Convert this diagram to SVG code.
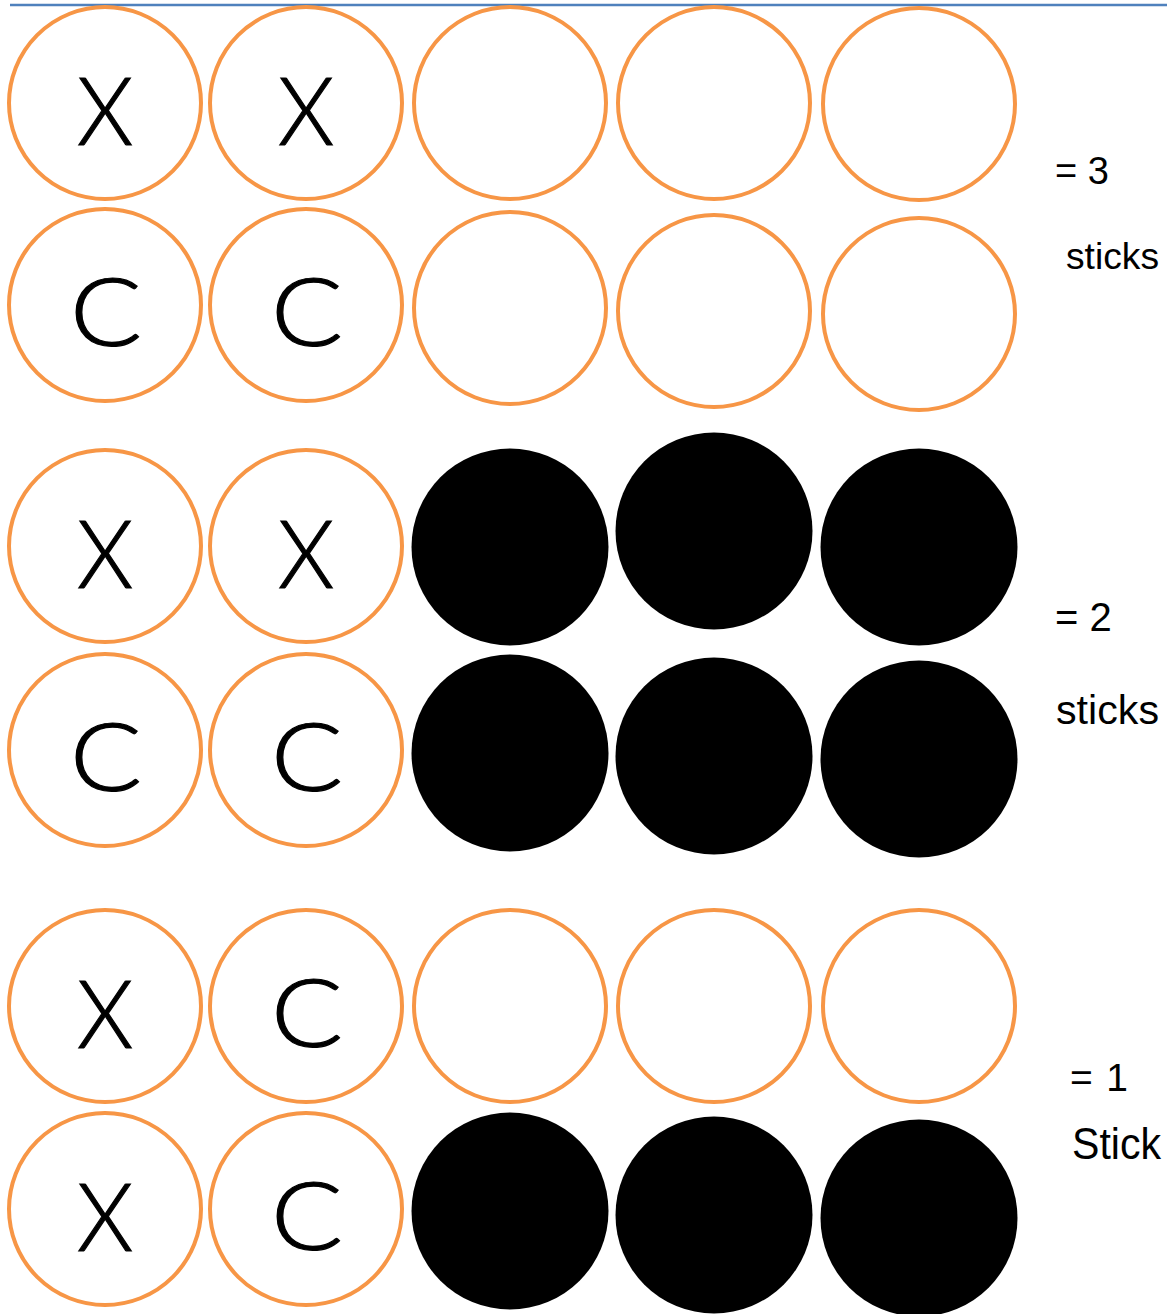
<svg xmlns="http://www.w3.org/2000/svg" width="1167" height="1314" viewBox="0 0 1167 1314">
<style>
.o{fill:#fff;stroke:#F79646;stroke-width:4}
.b{fill:#000;stroke:none}
.g{font-family:Lato,"Liberation Sans",Arial,sans-serif;font-weight:300;font-size:95px;fill:#000;stroke:#000;stroke-width:1.2;text-anchor:middle}
.l{font-family:"Liberation Sans",Arial,sans-serif;fill:#000}
</style>
<rect width="1167" height="1314" fill="#fff"/>
<line x1="10" y1="5" x2="1167" y2="5" stroke="#4F81BD" stroke-width="2.5"/>

<g id="r1c1"><circle class="o" cx="105" cy="103" r="96"/><text class="g" transform="translate(105,144.5) scale(0.95,1)">X</text></g>
<g id="r1c2"><circle class="o" cx="306" cy="103" r="96"/><text class="g" transform="translate(306,144.5) scale(0.95,1)">X</text></g>
<g id="r1c3"><circle class="o" cx="510" cy="103" r="96"/></g>
<g id="r1c4"><circle class="o" cx="714" cy="103" r="96"/></g>
<g id="r1c5"><circle class="o" cx="919" cy="104" r="96"/></g>

<g id="r2c1"><circle class="o" cx="105" cy="305" r="96"/><text class="g" transform="translate(106,346) scale(1.12,1)">C</text></g>
<g id="r2c2"><circle class="o" cx="306" cy="305" r="96"/><text class="g" transform="translate(307,346) scale(1.12,1)">C</text></g>
<g id="r2c3"><circle class="o" cx="510" cy="308" r="96"/></g>
<g id="r2c4"><circle class="o" cx="714" cy="311" r="96"/></g>
<g id="r2c5"><circle class="o" cx="919" cy="314" r="96"/></g>

<g id="r3c1"><circle class="o" cx="105" cy="546" r="96"/><text class="g" transform="translate(105,587.5) scale(0.95,1)">X</text></g>
<g id="r3c2"><circle class="o" cx="306" cy="546" r="96"/><text class="g" transform="translate(306,587.5) scale(0.95,1)">X</text></g>
<g id="r3c3"><circle class="b" cx="510" cy="547" r="98.5"/></g>
<g id="r3c4"><circle class="b" cx="714" cy="531" r="98.5"/></g>
<g id="r3c5"><circle class="b" cx="919" cy="547" r="98.5"/></g>

<g id="r4c1"><circle class="o" cx="105" cy="750" r="96"/><text class="g" transform="translate(106,791) scale(1.12,1)">C</text></g>
<g id="r4c2"><circle class="o" cx="306" cy="750" r="96"/><text class="g" transform="translate(307,791) scale(1.12,1)">C</text></g>
<g id="r4c3"><circle class="b" cx="510" cy="753" r="98.5"/></g>
<g id="r4c4"><circle class="b" cx="714" cy="756" r="98.5"/></g>
<g id="r4c5"><circle class="b" cx="919" cy="759" r="98.5"/></g>

<g id="r5c1"><circle class="o" cx="105" cy="1006" r="96"/><text class="g" transform="translate(105,1048) scale(0.95,1)">X</text></g>
<g id="r5c2"><circle class="o" cx="306" cy="1006" r="96"/><text class="g" transform="translate(307,1047) scale(1.12,1)">C</text></g>
<g id="r5c3"><circle class="o" cx="510" cy="1006" r="96"/></g>
<g id="r5c4"><circle class="o" cx="714" cy="1006" r="96"/></g>
<g id="r5c5"><circle class="o" cx="919" cy="1006" r="96"/></g>

<g id="r6c1"><circle class="o" cx="105" cy="1209" r="96"/><text class="g" transform="translate(105,1251) scale(0.95,1)">X</text></g>
<g id="r6c2"><circle class="o" cx="306" cy="1209" r="96"/><text class="g" transform="translate(307,1250) scale(1.12,1)">C</text></g>
<g id="r6c3"><circle class="b" cx="510" cy="1211" r="98.5"/></g>
<g id="r6c4"><circle class="b" cx="714" cy="1215" r="98.5"/></g>
<g id="r6c5"><circle class="b" cx="919" cy="1218" r="98.5"/></g>

<g id="labels">
<text class="l" x="1055" y="184" font-size="38">= 3</text>
<text class="l" x="1066" y="269" font-size="36" textLength="93" lengthAdjust="spacingAndGlyphs">sticks</text>
<text class="l" x="1055" y="631" font-size="40">= 2</text>
<text class="l" x="1056" y="724" font-size="41" textLength="103" lengthAdjust="spacingAndGlyphs">sticks</text>
<text class="l" x="1070" y="1091" font-size="39" textLength="58" lengthAdjust="spacing">= 1</text>
<text class="l" x="1072" y="1159" font-size="44" textLength="89" lengthAdjust="spacingAndGlyphs">Stick</text>
</g>
</svg>
